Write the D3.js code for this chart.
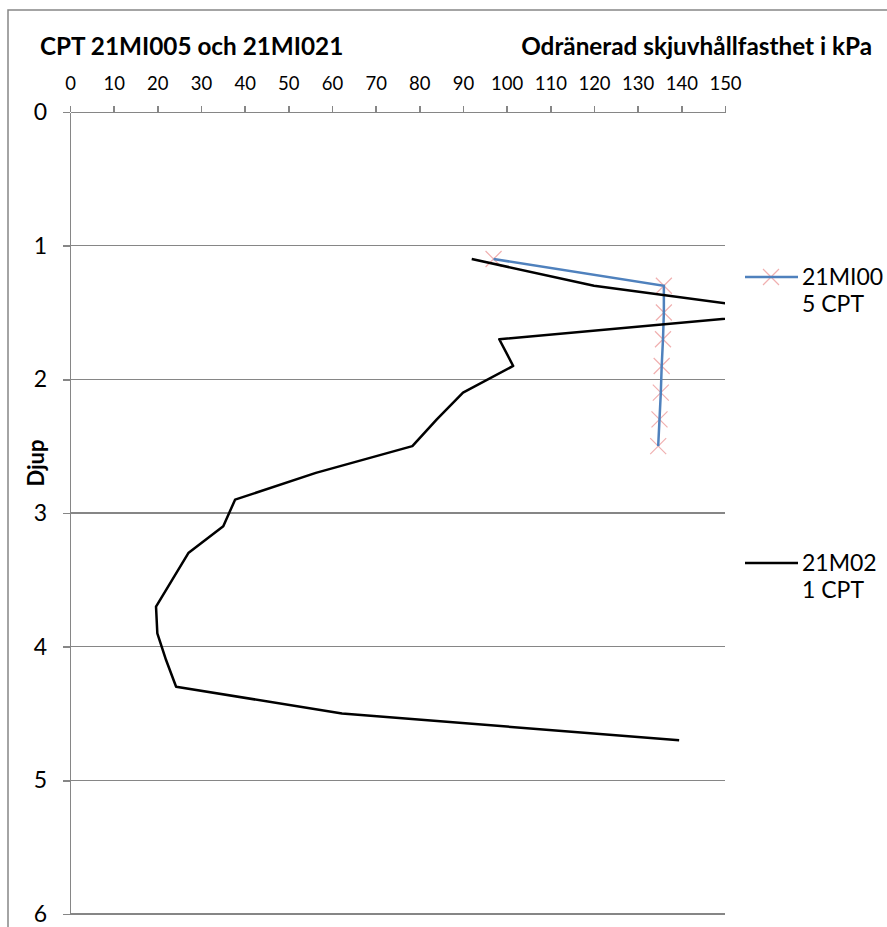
<!DOCTYPE html>
<meta charset="utf-8">
<style>

body {
  margin: 0;
  background: #fff;
}

text {
  font-family: Lato, "Open Sans", sans-serif;
  fill: #000;
}

.axis path,
.axis line,
.grid line {
  stroke: #868686;
  stroke-width: 1.5;
  shape-rendering: crispEdges;
}

.axis--x text {
  font-size: 18.5px;
}

.axis--y text {
  font-size: 23px;
}

.title {
  font-size: 24.3px;
  font-weight: bold;
}

.legend text {
  font-size: 23px;
}

</style>
<svg width="887" height="927"></svg>
<script src="https://cdn.jsdelivr.net/npm/d3@7"></script>
<script>

// 21MI005 CPT
var depth005 = [1.1, 1.3, 1.5, 1.7, 1.9, 2.1, 2.3, 2.5],
    su005 = [97, 136, 136, 135.8, 135.5, 135.3, 135, 134.7];

// 21MI021 CPT
var depth021 = [1.1, 1.3, 1.5, 1.7, 1.9, 2.1, 2.3, 2.5, 2.7, 2.9, 3.1, 3.3, 3.5, 3.7, 3.9, 4.1, 4.3, 4.5, 4.7],
    su021 = [92, 120, 166, 98.3, 101.5, 90, 84, 78.4, 56.3, 37.8, 35.1, 27.1, 23.4, 19.7, 20, 22, 24.3, 62.3, 139.5];

var xTicks = d3.range(0, 151, 10),
    yTicks = [0, 1, 2, 3, 4, 5, 6];

var seriesNames = [["21MI00", "5 CPT"], ["21M02", "1 CPT"]];

var svg = d3.select("svg");

var x = d3.scaleLinear().domain([0, 150]).range([70, 725]),
    y = d3.scaleLinear().domain([0, 6]).range([112, 914]);

// chart frame
svg.append("rect")
    .attr("x", 8)
    .attr("y", 10)
    .attr("width", 900)
    .attr("height", 960)
    .attr("fill", "none")
    .attr("stroke", "#868686")
    .attr("stroke-width", 1.5);

svg.append("g")
    .attr("class", "grid")
  .selectAll("line")
    .data(yTicks.slice(1))
  .enter().append("line")
    .attr("x1", x(0))
    .attr("x2", x(150))
    .attr("y1", function(d) { return y(d); })
    .attr("y2", function(d) { return y(d); });

svg.append("g")
    .attr("class", "axis axis--x")
    .attr("transform", "translate(0," + y(0) + ")")
    .call(d3.axisTop(x).tickValues(xTicks).tickSize(6).tickSizeOuter(0).tickPadding(16));

svg.append("g")
    .attr("class", "axis axis--y")
    .attr("transform", "translate(" + x(0) + ",0)")
    .call(d3.axisLeft(y).tickValues(yTicks).tickFormat(d3.format("d")).tickSize(7).tickSizeOuter(0).tickPadding(16));

svg.selectAll(".axis .domain").attr("fill", "none");

svg.append("text")
    .attr("class", "title")
    .attr("x", 40)
    .attr("y", 55)
    .text("CPT 21MI005 och 21MI021");

svg.append("text")
    .attr("class", "title")
    .attr("x", 872)
    .attr("y", 55)
    .attr("text-anchor", "end")
    .text("Odränerad skjuvhållfasthet i kPa");

svg.append("text")
    .attr("class", "title")
    .attr("transform", "translate(44,463) rotate(-90)")
    .attr("text-anchor", "middle")
    .style("font-size", "22px")
    .text("Djup");

// plot area clip
svg.append("clipPath")
    .attr("id", "plot")
  .append("rect")
    .attr("x", x(0))
    .attr("y", y(0))
    .attr("width", x(150) - x(0))
    .attr("height", y(6) - y(0));

var line = d3.line()
    .x(function(d) { return x(d[0]); })
    .y(function(d) { return y(d[1]); });

var data005 = depth005.map(function(d, i) { return [su005[i], d]; }),
    data021 = depth021.map(function(d, i) { return [su021[i], d]; });

var plot = svg.append("g").attr("clip-path", "url(#plot)");

function cross(g, cx, cy) {
  var s = 8;
  g.append("path")
      .attr("d", "M" + (cx - s) + "," + (cy - s) + "L" + (cx + s) + "," + (cy + s) +
                 "M" + (cx - s) + "," + (cy + s) + "L" + (cx + s) + "," + (cy - s))
      .attr("stroke", "#f0b0b0")
      .attr("stroke-width", 1.2)
      .attr("fill", "none");
}

data005.forEach(function(d) { cross(plot, x(d[0]), y(d[1])); });

plot.append("path")
    .datum(data005)
    .attr("d", line)
    .attr("fill", "none")
    .attr("stroke", "#4f81bd")
    .attr("stroke-width", 2.5);

plot.append("path")
    .datum(data021)
    .attr("d", line)
    .attr("fill", "none")
    .attr("stroke", "#000")
    .attr("stroke-width", 2.5)
    .attr("stroke-linejoin", "round");

// legend
var legend = svg.append("g").attr("class", "legend");
var legendY = [277, 563],
    legendColors = ["#4f81bd", "#000"];

seriesNames.forEach(function(name, i) {
  var ly = legendY[i];
  if (i === 0) cross(legend, 771, ly);
  legend.append("line")
      .attr("x1", 745)
      .attr("x2", 798)
      .attr("y1", ly)
      .attr("y2", ly)
      .attr("stroke", legendColors[i])
      .attr("stroke-width", 2.5);
  legend.append("text")
      .attr("x", 802)
      .attr("y", ly + 8)
      .text(name[0]);
  legend.append("text")
      .attr("x", 802)
      .attr("y", ly + 35)
      .text(name[1]);
});

</script>
